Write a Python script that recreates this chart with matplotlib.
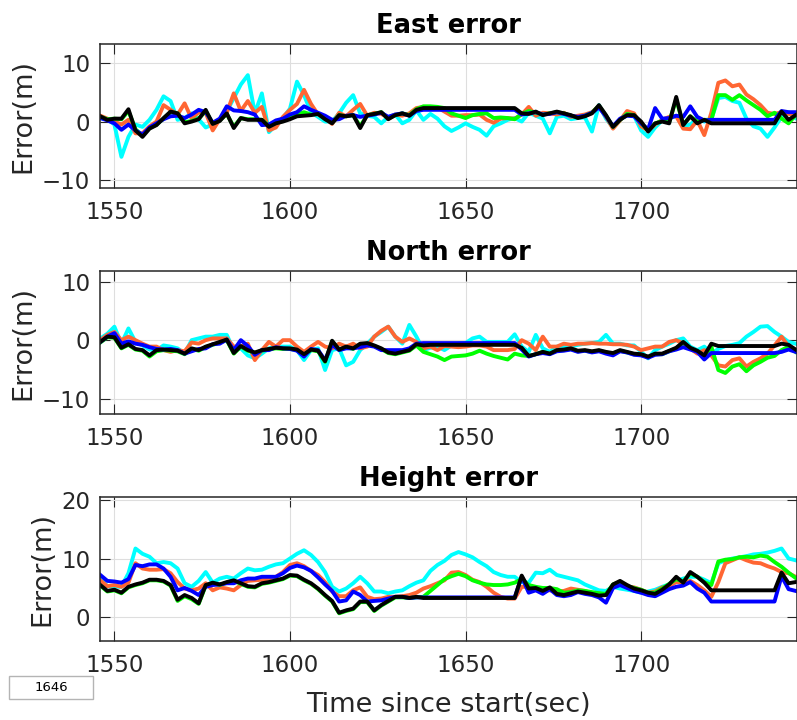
import numpy as np
import matplotlib
matplotlib.use('Agg')
import matplotlib.pyplot as plt
from matplotlib.patches import Rectangle

# %% time axis (s) and per-solution errors, sampled every 2 s
t = np.arange(1546, 1746, 2)

# East error (m)
east_cyan = [0.6, 0.4, -0.5, -6.0, -2.6, -0.5, -0.9, 0.3, 2.0, 4.3,
             3.5, 0.3, 0.6, 1.4, 0.4, -1.0, -0.5, 0.3, 1.7, 4.0,
             6.3, 7.9, 1.4, 4.8, -1.8, -0.6, 0.6, 2.2, 6.8, 4.5,
             1.6, 0.8, 0.0, 0.0, 1.4, 3.2, 4.5, 1.4, 1.0, 0.8,
             -0.3, 0.8, 1.2, -0.3, 0.3, 1.9, 0.3, 1.3, 0.5, -0.8,
             -1.6, -1.0, -0.3, -0.9, -1.4, -2.4, -0.8, -0.3, 0.3, 0.6,
             0.0, 1.5, 1.0, 0.5, -2.0, 0.8, 1.0, 0.4, 0.6, 0.7,
             -1.7, 2.8, 0.5, -1.0, 0.3, 1.2, 1.0, -1.5, -2.6, -1.0,
             0.2, 0.5, 1.0, -0.8, -0.5, 0.5, 0.0, 0.4, 4.0, 4.2,
             3.5, 3.2, 0.5, -0.8, -1.2, -2.6, -1.0, 0.8, 1.6, 0.6]
east_orange = [1.0, 0.5, 0.0, -0.5, 0.3, -2.0, -2.0, -0.8, 0.0, 2.8,
               2.0, 1.2, 3.1, 0.5, 1.6, 1.5, -1.5, 0.4, 1.5, 4.8,
               1.8, 3.5, 1.5, 2.5, -1.5, -1.0, 0.8, 2.0, 3.0, 5.4,
               3.0, 1.2, 0.6, -0.4, 1.5, 0.9, 2.0, 3.0, 1.0, 1.5,
               1.3, 0.7, 1.2, 1.0, 1.4, 2.3, 2.5, 2.4, 2.4, 1.7,
               1.0, 1.0, 1.1, 1.1, 1.2, 0.3, -0.2, 0.5, 0.6, 0.5,
               1.2, 2.5, 1.0, 1.5, 1.4, 1.2, 1.5, 0.8, 1.0, 1.2,
               1.6, 2.6, 0.8, -1.2, 0.2, 1.8, 1.4, -0.8, -1.5, -0.5,
               0.3, 0.8, 0.9, -1.2, -1.3, 0.2, -2.3, 1.5, 6.6, 7.0,
               6.0, 6.3, 4.6, 3.8, 2.8, 1.5, 1.3, 1.6, 1.3, 1.2]
east_green = [0.8, 0.4, 0.5, 0.4, 1.8, -1.3, -2.4, -1.1, -0.5, 0.5,
              1.6, 1.4, -0.1, 0.1, 0.5, 1.8, -0.3, 0.2, 1.3, -0.9,
              0.6, 0.4, 0.4, 0.3, -0.7, -0.2, 0.1, 0.6, 1.2, 1.6,
              1.2, 1.3, 0.5, -0.2, 1.1, 0.9, 1.1, -0.8, 1.1, 1.3,
              1.6, 0.5, 1.1, 1.4, 1.1, 2.1, 2.6, 2.6, 2.5, 2.3,
              1.4, 1.0, 0.6, 1.1, 1.3, 1.4, 0.6, 0.7, 0.6, 0.4,
              1.3, 1.8, 1.5, 1.2, 1.4, 1.6, 1.4, 1.0, 0.7, 1.0,
              1.5, 2.7, 1.0, -0.9, 0.3, 1.3, 1.1, -0.3, -1.5, -0.3,
              0.1, -0.1, 3.8, -0.5, 0.9, 0.0, 0.3, 0.3, 4.5, 4.5,
              3.7, 4.5, 3.6, 2.8, 2.0, 0.9, 1.5, 0.5, -0.3, 1.1]
east_blue = [0.6, 0.2, -0.3, -1.4, -0.5, -1.5, -2.2, -1.0, -0.3, 0.4,
             0.9, 1.0, 0.6, 1.2, 2.0, 1.6, -0.2, 0.5, 2.6, 1.9,
             1.8, 1.6, 1.2, -0.6, -0.5, 0.2, 0.5, 1.2, 1.6, 2.6,
             2.0, 1.5, 1.0, 0.3, 0.4, 1.0, 1.1, 0.8, 1.0, 1.2,
             1.5, 0.8, 1.2, 1.4, 1.0, 1.8, 2.0, 2.0, 2.0, 2.0,
             2.0, 2.0, 2.0, 2.0, 2.0, 2.0, 2.0, 2.0, 2.0, 2.0,
             1.2, 1.4, 1.6, 1.2, 1.3, 1.6, 1.3, 1.0, 0.8, 1.0,
             1.5, 2.4, 0.9, -0.8, 0.5, 1.0, 0.9, -0.3, -1.3, 2.3,
             0.5, 0.6, 1.0, 0.8, 2.6, 0.8, 0.2, 0.3, 0.3, 0.3,
             0.3, 0.3, 0.3, 0.3, 0.3, 0.3, 0.3, 1.8, 1.6, 1.6]
east_black = [0.9, 0.3, 0.5, 0.5, 2.1, -1.5, -2.6, -1.2, -0.6, 0.6,
              1.7, 1.4, -0.3, 0.0, 0.4, 2.0, -0.4, 0.1, 1.4, -1.1,
              0.6, 0.3, 0.3, 0.3, -0.9, -0.3, 0.0, 0.4, 0.9, 1.0,
              1.1, 1.3, 0.4, -0.3, 1.1, 0.9, 1.1, -1.1, 1.1, 1.3,
              1.6, 0.4, 1.1, 1.4, 1.0, 2.0, 2.3, 2.3, 2.3, 2.3,
              2.3, 2.3, 2.3, 2.3, 2.3, 2.3, 2.3, 2.3, 2.3, 2.3,
              1.4, 1.3, 1.7, 1.1, 1.4, 1.7, 1.4, 1.1, 0.6, 0.9,
              1.4, 2.8, 1.1, -0.9, 0.3, 1.1, 1.1, 0.0, -1.7, -0.3,
              0.0, -0.3, 4.2, -0.6, 0.9, -0.3, 0.3, -0.3, -0.3, -0.3,
              -0.3, -0.3, -0.3, -0.3, -0.3, -0.3, -0.3, 1.7, 0.3, 1.1]

# North error (m)
north_cyan = [0.3, 1.1, 2.3, -0.6, 2.0, -0.3, -0.9, -1.6, -1.7, -0.9,
              -1.1, -1.4, -2.3, 0.0, 0.3, 0.6, 0.6, 0.9, 0.9, -1.7,
              -1.4, -2.6, -3.1, -2.3, -1.4, -1.1, -1.1, -1.1, -1.7, -3.4,
              -1.7, -1.4, -5.1, -1.7, -1.4, -4.3, -3.7, -1.7, -0.6, 0.6,
              1.4, 2.3, 0.6, -0.6, 2.6, 0.6, -1.7, -1.3, -1.1, -1.7,
              -0.9, -0.6, -0.5, 0.3, 0.6, -0.3, -0.3, -0.3, -0.3, 1.0,
              -1.1, -2.0, 0.9, -1.4, -2.0, -1.1, -1.1, -1.1, -0.8, -0.6,
              -0.5, -0.3, 0.9, -0.6, -0.6, -0.9, -0.9, -2.0, -3.1, -1.7,
              -1.1, -0.6, 0.0, 0.3, -1.1, -1.7, -1.1, -2.3, -1.5, -1.0,
              -0.8, -0.5, 0.6, 1.4, 2.3, 2.4, 1.4, 0.6, -0.3, -0.6]
north_orange = [0.0, 0.9, 1.4, 0.0, 0.6, 0.0, -0.6, -1.1, -1.1, -1.7,
                -2.0, -1.7, -1.9, -0.4, -0.6, 0.0, 0.3, 0.3, 0.3, -1.1,
                -1.1, -0.6, -3.4, -1.7, -0.3, -1.1, 0.0, 0.0, -1.1, -2.0,
                -1.1, -0.3, -1.1, -1.4, -0.6, -1.1, -0.6, -1.4, -1.1, 0.6,
                1.6, 2.3, 0.6, -0.3, 0.3, -0.3, -1.4, -1.1, -1.7, -1.0,
                -1.1, -1.2, -1.1, -0.9, -0.9, -1.1, -1.7, -1.7, -1.7, -1.5,
                0.0, -0.6, -1.7, 0.6, -1.1, -1.1, -0.6, -0.8, -0.6, -0.6,
                -0.5, -0.6, -0.6, -0.7, -0.7, -0.8, -1.1, -1.7, -1.4, -1.1,
                -1.1, -0.3, 0.0, -0.6, -1.4, -2.3, -1.7, -2.6, -4.3, -4.5,
                -3.4, -3.1, -4.5, -3.7, -3.1, -2.3, -0.9, 0.6, -1.1, -1.7]
north_green = [-0.4, 0.5, 0.4, -1.4, -0.8, -1.6, -1.8, -2.8, -1.9, -1.7,
               -1.8, -1.9, -2.4, -1.5, -1.8, -1.2, -0.8, -0.4, 0.0, -2.3,
               -1.1, -1.8, -2.2, -1.8, -1.6, -1.4, -1.5, -1.5, -1.7, -2.5,
               -1.7, -1.9, -3.7, -0.2, -1.7, -1.2, -1.5, -0.7, -0.6, -1.0,
               -1.5, -2.2, -2.4, -2.1, -1.8, -0.9, -2.0, -2.4, -2.8, -3.4,
               -2.8, -2.7, -2.6, -2.3, -1.8, -2.3, -2.7, -3.0, -3.3, -2.3,
               -2.6, -2.7, -2.4, -2.0, -2.3, -1.8, -1.7, -1.5, -1.9, -1.8,
               -2.0, -1.8, -2.1, -2.3, -1.8, -2.1, -2.4, -2.5, -2.9, -2.4,
               -2.4, -1.9, -1.4, -0.4, -1.4, -1.9, -2.7, -1.1, -5.1, -5.6,
               -4.5, -4.1, -5.3, -4.3, -3.7, -3.0, -2.7, -1.7, -1.1, -2.0]
north_blue = [-0.3, 0.6, 1.2, -0.6, -0.2, -0.6, -0.8, -1.2, -1.5, -1.6,
              -1.5, -1.7, -2.3, -1.9, -1.5, -1.4, -0.7, -0.6, 0.1, -1.7,
              0.0, -1.0, -2.5, -1.7, -1.7, -1.2, -1.4, -1.5, -1.8, -2.8,
              -1.5, -1.7, -3.4, -0.8, -1.7, -1.4, -1.4, -1.2, -0.9, -1.1,
              -1.7, -1.7, -1.7, -1.7, -1.4, -0.6, -0.5, -0.5, -0.5, -0.5,
              -0.5, -0.5, -0.5, -0.5, -0.5, -0.5, -0.5, -0.5, -0.5, -0.5,
              -1.6, -2.8, -2.4, -2.2, -2.4, -1.9, -1.8, -1.6, -2.0, -1.8,
              -2.1, -1.9, -2.3, -2.6, -1.9, -2.1, -2.5, -2.6, -3.0, -2.5,
              -2.4, -1.9, -1.6, -1.2, -1.6, -2.0, -3.3, -2.2, -2.2, -2.2,
              -2.2, -2.2, -2.2, -2.2, -2.2, -2.2, -2.2, -2.0, -1.6, -2.0]
north_black = [-0.3, 0.6, 0.5, -1.3, -0.7, -1.5, -1.7, -2.6, -1.7, -1.6,
               -1.7, -1.8, -2.3, -1.4, -1.7, -1.1, -0.7, -0.3, 0.1, -2.2,
               -1.0, -1.7, -2.1, -1.7, -1.5, -1.3, -1.4, -1.4, -1.6, -2.4,
               -1.6, -1.8, -3.6, -0.1, -1.6, -1.1, -1.4, -0.6, -0.5, -0.9,
               -1.4, -2.1, -2.3, -2.0, -1.7, -0.7, -0.9, -0.8, -0.8, -0.8,
               -0.8, -0.8, -0.8, -0.8, -0.8, -0.8, -0.8, -0.8, -0.8, -0.8,
               -1.3, -2.7, -2.4, -2.0, -2.3, -1.7, -1.6, -1.4, -1.8, -1.7,
               -1.9, -1.7, -2.0, -2.2, -1.7, -2.0, -2.3, -2.4, -2.8, -2.3,
               -2.3, -1.8, -1.3, -0.3, -1.3, -1.8, -2.6, -0.6, -1.0, -1.0,
               -1.0, -1.0, -1.0, -1.0, -1.0, -1.0, -1.0, -0.6, -0.8, -1.6]

# Height error (m)
height_cyan = [6.6, 5.3, 5.2, 5.2, 7.5, 11.7, 10.8, 10.3, 9.2, 9.4,
               9.2, 8.3, 5.8, 5.2, 6.2, 7.7, 5.9, 6.6, 6.9, 6.6,
               7.5, 8.3, 8.0, 8.1, 8.6, 9.0, 9.2, 10.0, 10.8, 11.4,
               10.6, 9.4, 7.7, 5.2, 4.4, 4.9, 5.8, 6.9, 5.8, 4.4,
               4.4, 4.1, 4.4, 4.6, 5.3, 5.9, 6.3, 7.9, 8.9, 9.6,
               10.6, 11.1, 10.7, 10.2, 9.4, 8.7, 7.7, 7.2, 6.9, 6.9,
               6.0, 5.9, 7.6, 7.5, 8.1, 7.2, 6.9, 6.6, 6.3, 5.6,
               5.1, 4.6, 4.5, 5.2, 4.9, 4.7, 4.5, 4.2, 4.4, 4.7,
               5.2, 5.6, 6.2, 6.6, 6.9, 6.9, 6.4, 5.8, 9.2, 9.7,
               10.0, 10.2, 10.4, 10.7, 10.8, 11.0, 11.3, 11.7, 10.0, 9.7]
height_orange = [6.3, 5.3, 5.5, 5.2, 5.9, 9.2, 8.3, 8.1, 8.1, 8.2,
                 7.5, 6.0, 4.9, 4.6, 4.9, 5.8, 4.6, 5.1, 4.9, 4.6,
                 5.5, 6.2, 6.3, 6.4, 6.6, 6.9, 7.7, 8.9, 9.2, 8.7,
                 7.9, 7.2, 6.0, 4.4, 3.6, 3.6, 4.6, 5.1, 3.5, 3.1,
                 3.2, 3.5, 3.5, 3.6, 3.8, 4.2, 4.9, 5.3, 5.8, 6.3,
                 7.6, 7.7, 7.2, 6.4, 6.0, 5.2, 4.2, 3.5, 3.2, 3.2,
                 5.2, 5.2, 4.7, 4.6, 4.6, 4.4, 4.5, 4.9, 4.7, 4.5,
                 4.1, 4.1, 3.8, 5.5, 5.8, 5.2, 5.1, 4.7, 4.2, 4.4,
                 5.1, 5.3, 6.0, 5.9, 6.2, 5.5, 4.6, 3.5, 6.0, 9.2,
                 9.7, 10.2, 9.7, 9.3, 9.2, 8.7, 8.3, 7.7, 7.5, 6.9]
height_green = [5.4, 4.4, 4.6, 4.1, 5.1, 5.5, 5.8, 6.3, 6.3, 6.1,
                5.4, 2.8, 3.6, 3.1, 2.3, 5.4, 5.8, 5.5, 5.9, 6.2,
                5.7, 5.2, 5.1, 5.7, 5.9, 6.2, 6.5, 7.1, 7.0, 6.3,
                5.7, 4.8, 3.7, 2.7, 0.7, 1.1, 1.4, 2.6, 2.6, 1.1,
                2.0, 2.7, 3.4, 3.4, 3.3, 3.4, 3.5, 4.5, 5.5, 6.5,
                7.0, 7.4, 7.0, 6.3, 5.9, 5.6, 5.5, 5.5, 5.6, 5.9,
                6.5, 5.5, 5.2, 5.0, 5.0, 4.8, 4.2, 4.3, 4.6, 4.5,
                4.3, 4.1, 4.0, 5.6, 6.0, 5.3, 5.0, 4.7, 4.2, 4.2,
                4.9, 5.7, 6.5, 6.1, 7.5, 6.9, 6.0, 5.5, 9.5, 9.8,
                9.9, 10.2, 10.3, 10.2, 10.5, 10.3, 9.4, 8.6, 7.6, 6.7]
height_blue = [7.2, 6.2, 6.1, 5.9, 6.5, 8.9, 8.7, 9.0, 9.0, 8.3,
               6.9, 4.6, 5.0, 4.5, 3.8, 5.2, 5.5, 5.6, 5.8, 5.8,
               6.3, 6.6, 6.6, 6.9, 6.9, 6.9, 7.5, 8.4, 8.8, 8.5,
               7.9, 6.8, 5.6, 4.5, 2.7, 2.9, 4.4, 3.8, 2.7, 2.8,
               2.9, 3.2, 3.5, 3.5, 3.3, 3.4, 3.4, 3.4, 3.4, 3.4,
               3.4, 3.4, 3.4, 3.4, 3.4, 3.4, 3.4, 3.4, 3.4, 3.4,
               6.9, 4.2, 4.6, 4.0, 4.8, 3.8, 3.6, 3.8, 4.3, 4.0,
               3.8, 3.4, 2.5, 5.0, 5.5, 5.0, 4.5, 4.2, 3.8, 3.6,
               4.2, 4.8, 5.2, 5.4, 6.0, 4.9, 4.2, 2.7, 2.7, 2.7,
               2.7, 2.7, 2.7, 2.7, 2.7, 2.7, 2.7, 7.0, 4.8, 4.5]
height_black = [5.5, 4.5, 4.7, 4.2, 5.2, 5.6, 5.9, 6.4, 6.4, 6.2,
                5.5, 3.0, 3.8, 3.3, 2.4, 5.5, 5.9, 5.6, 6.0, 6.3,
                5.8, 5.3, 5.2, 5.8, 6.0, 6.3, 6.6, 7.2, 7.1, 6.4,
                5.8, 4.9, 3.8, 2.8, 0.8, 1.2, 1.5, 2.7, 2.7, 1.2,
                2.1, 2.8, 3.5, 3.5, 3.3, 3.5, 3.3, 3.3, 3.3, 3.3,
                3.3, 3.3, 3.3, 3.3, 3.3, 3.3, 3.3, 3.3, 3.3, 3.3,
                7.1, 4.9, 5.0, 4.5, 5.1, 4.0, 3.8, 4.1, 4.4, 4.2,
                4.0, 3.7, 3.8, 5.6, 6.2, 5.5, 4.9, 4.6, 4.2, 4.0,
                4.7, 5.6, 6.9, 5.9, 7.7, 6.9, 5.9, 4.6, 4.6, 4.6,
                4.6, 4.6, 4.6, 4.6, 4.6, 4.6, 4.6, 7.6, 5.8, 6.0]

line_colors = ['#00ffff', '#ff6633', '#00ff00', '#0000ff', '#000000']
x_ticks = [1550, 1600, 1650, 1700]

panels = [
    ('East error', [east_cyan, east_orange, east_green, east_blue, east_black],
     (-11.3, 13.2), [-10, 0, 10], [100, 532, 697, 144]),
    ('North error', [north_cyan, north_orange, north_green, north_blue, north_black],
     (-12.6, 11.8), [-10, 0, 10], [100, 306, 697, 143]),
    ('Height error', [height_cyan, height_orange, height_green, height_blue, height_black],
     (-4.0, 20.44), [0, 10, 20], [100, 79, 697, 144]),
]

W, H = 797, 720
fig = plt.figure(figsize=(W / 100, H / 100), dpi=100)
fig.patch.set_facecolor('white')

axes = []
for title, series, ylim, yticks, box in panels:
    ax = fig.add_axes([box[0] / W, box[1] / H, box[2] / W, box[3] / H])
    for vals, col in zip(series, line_colors):
        ax.plot(t, vals, color=col, linewidth=2.8)
    ax.set_xlim(1545.9, 1744.4)
    ax.set_ylim(*ylim)
    ax.set_xticks(x_ticks)
    ax.set_yticks(yticks)
    ax.grid(True, color='#dedede', linewidth=0.8)
    ax.set_axisbelow(True)
    ax.tick_params(direction='in', top=True, right=True, length=7, width=0.8,
                   colors='#262626', labelsize=16.5)
    ax.tick_params(axis='x', pad=9.5)
    ax.tick_params(axis='y', pad=7)
    for sp in ax.spines.values():
        sp.set_color('#262626')
        sp.set_linewidth(1.1)
    ax.set_title(title, fontsize=18.5, fontweight='bold', pad=8)
    ax.set_ylabel('Error(m)', fontsize=19.5, color='#262626', labelpad=4)
    axes.append(ax)

axes[-1].set_xlabel('Time since start(sec)', fontsize=19.5, color='#262626', labelpad=11)

# little readout box in the lower left corner
fig.add_artist(Rectangle((9 / W, 21 / H), 84 / W, 23 / H, transform=fig.transFigure,
                         facecolor='white', edgecolor='#b4b4b4', linewidth=1.0))
fig.text(51 / W, 32.5 / H, '1646', ha='center', va='center', fontsize=9.5, color='black')

fig.savefig('out.png', dpi=100)
